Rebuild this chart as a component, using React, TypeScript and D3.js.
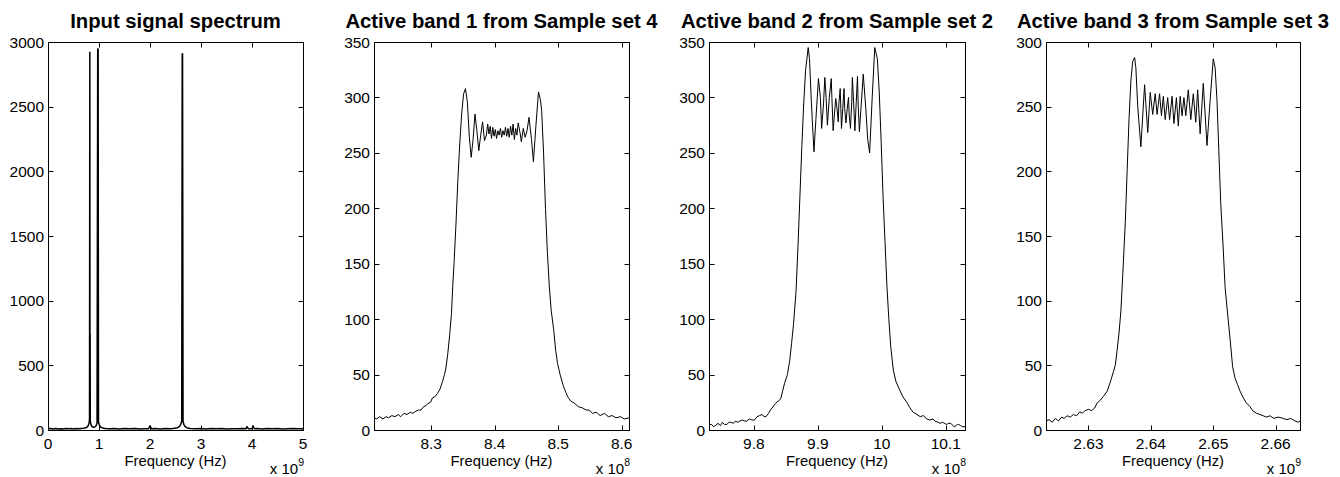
import React from "react";
import * as d3 from "d3";

// ---------- data ----------
// Panel 1: full input spectrum, frequency in units of 1e9 Hz
const spectrumPoints: [number, number][] = [
  [0, 9], [0.05, 11], [0.1, 7], [0.15, 12], [0.2, 8], [0.25, 10], [0.3, 7], [0.35, 11],
  [0.4, 9], [0.45, 12], [0.5, 8], [0.55, 11], [0.6, 9], [0.65, 12], [0.7, 14], [0.74, 17],
  [0.77, 24], [0.79, 35], [0.805, 55], [0.814, 80], [0.82, 2920], [0.823, 120], [0.826, 740],
  [0.829, 70], [0.84, 45], [0.86, 28], [0.89, 20], [0.92, 24], [0.945, 35], [0.962, 55],
  [0.975, 2945], [0.983, 2945], [0.99, 60], [1.005, 40], [1.03, 24], [1.07, 15], [1.12, 11],
  [1.2, 9], [1.3, 12], [1.4, 8], [1.5, 11], [1.6, 9], [1.7, 12], [1.8, 8], [1.9, 10],
  [1.97, 9], [2.0, 32], [2.03, 9], [2.1, 11], [2.2, 8], [2.3, 12], [2.4, 10], [2.48, 13],
  [2.54, 18], [2.58, 28], [2.605, 45], [2.622, 70], [2.632, 2910], [2.638, 2910],
  [2.648, 65], [2.665, 42], [2.69, 26], [2.73, 16], [2.79, 11], [2.9, 9], [3.0, 12],
  [3.1, 8], [3.2, 11], [3.3, 9], [3.4, 12], [3.5, 8], [3.6, 10], [3.7, 9], [3.8, 11],
  [3.88, 9], [3.9, 26], [3.93, 9], [4.0, 10], [4.02, 30], [4.05, 9], [4.1, 11], [4.2, 8],
  [4.3, 12], [4.4, 9], [4.5, 11], [4.6, 8], [4.7, 10], [4.8, 12], [4.9, 9], [5.0, 10],
];

// Panel 2: active band 1, frequency in units of 1e8 Hz
const band1Points: [number, number][] = [
  [8.21, 11], [8.214, 10], [8.219, 12], [8.224, 10], [8.229, 12], [8.233, 11], [8.238, 13],
  [8.243, 12], [8.248, 14], [8.252, 12], [8.257, 15], [8.262, 14], [8.267, 16], [8.271, 15],
  [8.276, 17], [8.28, 18], [8.284, 18], [8.288, 21], [8.292, 22], [8.295, 24], [8.299, 25],
  [8.302, 29], [8.306, 30], [8.31, 33], [8.314, 37], [8.318, 44], [8.321, 50], [8.323, 55],
  [8.326, 68], [8.329, 85], [8.332, 105], [8.334, 130], [8.336, 150], [8.339, 185],
  [8.342, 225], [8.345, 258], [8.348, 285], [8.351, 303], [8.354, 308], [8.357, 296],
  [8.36, 265], [8.363, 246], [8.366, 262], [8.369, 285], [8.372, 270], [8.375, 252],
  [8.378, 266], [8.381, 278], [8.384, 261], [8.387, 266], [8.389, 276], [8.391, 267],
  [8.393, 274], [8.395, 263], [8.397, 273], [8.399, 265], [8.401, 271], [8.403, 263],
  [8.405, 270], [8.407, 266], [8.409, 272], [8.411, 264], [8.413, 270], [8.415, 266],
  [8.417, 273], [8.419, 265], [8.421, 272], [8.423, 264], [8.425, 274], [8.427, 266],
  [8.429, 276], [8.431, 262], [8.433, 272], [8.435, 266], [8.437, 277], [8.44, 268],
  [8.442, 260], [8.445, 272], [8.448, 264], [8.451, 270], [8.454, 282], [8.458, 262],
  [8.461, 242], [8.465, 275], [8.469, 305], [8.472, 298], [8.474, 288], [8.477, 250],
  [8.48, 200], [8.483, 160], [8.486, 130], [8.489, 108], [8.493, 90], [8.496, 72],
  [8.499, 60], [8.503, 50], [8.508, 40], [8.512, 34], [8.515, 30], [8.52, 26], [8.526, 24],
  [8.532, 21], [8.538, 20], [8.544, 18], [8.549, 18], [8.554, 15], [8.56, 16], [8.566, 13],
  [8.573, 15], [8.579, 12], [8.585, 13], [8.591, 11], [8.598, 12], [8.604, 10], [8.6115, 11],
];

// Panel 3: active band 2, frequency in units of 1e8 Hz
const band2Points: [number, number][] = [
  [9.73, 5], [9.734, 5], [9.737, 3], [9.74, 4], [9.744, 6], [9.748, 4], [9.751, 7],
  [9.754, 5], [9.758, 5], [9.761, 7], [9.764, 7], [9.768, 6], [9.771, 8], [9.775, 7],
  [9.778, 8], [9.782, 9], [9.786, 8], [9.789, 8], [9.793, 10], [9.797, 9], [9.801, 9],
  [9.805, 12], [9.809, 13], [9.813, 14], [9.816, 12], [9.819, 12], [9.823, 15], [9.826, 18],
  [9.83, 21], [9.834, 24], [9.838, 26], [9.842, 28], [9.845, 35], [9.848, 42], [9.8525, 50],
  [9.856, 62], [9.859, 78], [9.862, 95], [9.866, 125], [9.869, 165], [9.872, 210],
  [9.875, 255], [9.878, 295], [9.881, 325], [9.885, 345], [9.887, 335], [9.89, 295],
  [9.894, 251], [9.897, 280], [9.901, 317], [9.904, 300], [9.906, 272], [9.909, 295],
  [9.911, 318], [9.913, 300], [9.915, 275], [9.918, 300], [9.921, 317], [9.922, 300],
  [9.924, 270], [9.926, 285], [9.928, 299], [9.93, 290], [9.932, 278], [9.933, 295],
  [9.935, 308], [9.936, 290], [9.937, 272], [9.939, 290], [9.941, 308], [9.942, 290],
  [9.944, 277], [9.946, 290], [9.948, 300], [9.949, 285], [9.951, 272], [9.953, 295],
  [9.954, 318], [9.956, 295], [9.958, 270], [9.96, 295], [9.962, 319], [9.963, 295],
  [9.965, 269], [9.968, 295], [9.971, 321], [9.975, 290], [9.978, 262], [9.981, 250],
  [9.985, 300], [9.989, 345], [9.993, 335], [9.996, 305], [9.999, 260], [10.002, 210],
  [10.005, 170], [10.008, 130], [10.011, 100], [10.014, 75], [10.018, 54], [10.022, 44],
  [10.028, 36], [10.033, 30], [10.039, 25], [10.044, 20], [10.049, 16], [10.055, 14],
  [10.06, 12], [10.065, 13], [10.07, 10], [10.075, 9], [10.08, 10], [10.083, 8], [10.088, 7],
  [10.091, 6], [10.095, 7], [10.101, 5], [10.104, 6], [10.108, 6], [10.111, 4], [10.114, 3],
  [10.118, 5], [10.12, 5], [10.123, 4], [10.126, 3], [10.13, 3],
];

// Panel 4: active band 3, frequency in units of 1e9 Hz
const band3Points: [number, number][] = [
  [2.6232, 7], [2.6237, 8], [2.6242, 6], [2.6247, 9], [2.6252, 7], [2.6257, 10], [2.6261, 9],
  [2.6266, 11], [2.6271, 10], [2.6276, 12], [2.6281, 11], [2.6286, 14], [2.629, 13],
  [2.6295, 15], [2.63, 16], [2.6305, 15], [2.631, 17], [2.6314, 21], [2.6319, 23],
  [2.6324, 26], [2.633, 30], [2.6335, 37], [2.634, 45], [2.6343, 50], [2.6346, 62],
  [2.6349, 75], [2.6352, 92], [2.6355, 120], [2.6359, 160], [2.6362, 200], [2.6365, 240],
  [2.6368, 270], [2.6371, 285], [2.6374, 288], [2.6376, 280], [2.6379, 250], [2.6384, 219],
  [2.639, 267], [2.6395, 230], [2.6399, 261], [2.6403, 244], [2.6407, 260], [2.641, 244],
  [2.6414, 260], [2.6417, 243], [2.642, 258], [2.6423, 240], [2.6427, 257], [2.643, 240],
  [2.6434, 258], [2.6437, 237], [2.6441, 257], [2.6444, 235], [2.6447, 258], [2.645, 243],
  [2.6453, 257], [2.6456, 243], [2.646, 263], [2.6464, 240], [2.6468, 260], [2.6472, 238],
  [2.6475, 263], [2.6479, 229], [2.6484, 268], [2.649, 220], [2.6495, 255], [2.65, 287],
  [2.6503, 280], [2.6506, 255], [2.6509, 215], [2.6512, 175], [2.6516, 140], [2.6519, 110],
  [2.6524, 85], [2.6528, 65], [2.6531, 49], [2.6535, 40], [2.6539, 35], [2.6543, 30],
  [2.6548, 25], [2.6553, 21], [2.6559, 18], [2.6563, 15], [2.6569, 13], [2.6575, 12],
  [2.658, 11], [2.6585, 10], [2.6591, 11], [2.6597, 9], [2.6604, 10], [2.6612, 9],
  [2.6618, 8], [2.6624, 9], [2.6631, 7], [2.6636, 6], [2.6639, 7],
];

const titles = [
  "Input signal spectrum",
  "Active band 1 from Sample set 4",
  "Active band 2 from Sample set 2",
  "Active band 3 from Sample set 3",
];

const xTicks1 = [0, 1, 2, 3, 4, 5];
const xTicks2 = [8.3, 8.4, 8.5, 8.6];
const xTicks3 = [9.8, 9.9, 10, 10.1];
const xTicks4 = [2.63, 2.64, 2.65, 2.66];
const xTickLabels1 = ["0", "1", "2", "3", "4", "5"];
const xTickLabels2 = ["8.3", "8.4", "8.5", "8.6"];
const xTickLabels3 = ["9.8", "9.9", "10", "10.1"];
const xTickLabels4 = ["2.63", "2.64", "2.65", "2.66"];
const yTicks1 = [0, 500, 1000, 1500, 2000, 2500, 3000];
const yTicks2 = [0, 50, 100, 150, 200, 250, 300, 350];
const yTicks3 = [0, 50, 100, 150, 200, 250, 300, 350];
const yTicks4 = [0, 50, 100, 150, 200, 250, 300];
const exponents = ["9", "8", "8", "9"];
const xLabel = "Frequency (Hz)";

// ---------- layout ----------
const FONT = "'Liberation Sans', Arial, Helvetica, sans-serif";
const TOP = 42;
const BOTTOM = 430;
const TICK = 5;
const TICK_FONT = 15.5;

type PanelProps = {
  left: number;
  right: number;
  title: string;
  xDomain: [number, number];
  yDomain: [number, number];
  xTicks: number[];
  xTickLabels: string[];
  yTicks: number[];
  exponent: string;
  data: [number, number][];
  strokeWidth: number;
};

function Panel(p: PanelProps) {
  const x = d3.scaleLinear().domain(p.xDomain).range([p.left, p.right]);
  const y = d3.scaleLinear().domain(p.yDomain).range([BOTTOM, TOP]);
  const line = d3
    .line<[number, number]>()
    .x((d) => x(d[0]))
    .y((d) => y(d[1]));
  const cx = (p.left + p.right) / 2;
  return (
    <g>
      <defs>
        <clipPath id={`clip-${p.left}`}>
          <rect x={p.left} y={TOP - 1} width={p.right - p.left} height={BOTTOM - TOP + 1} />
        </clipPath>
      </defs>
      <path
        d={line(p.data) || ""}
        fill="none"
        stroke="#000"
        strokeWidth={p.strokeWidth}
        strokeLinejoin="round"
        clipPath={`url(#clip-${p.left})`}
      />
      <rect
        x={p.left + 0.5}
        y={TOP + 0.5}
        width={p.right - p.left}
        height={BOTTOM - TOP}
        fill="none"
        stroke="#000"
        strokeWidth={1}
      />
      {p.xTicks.map((t, i) => {
        const xx = Math.round(x(t)) + 0.5;
        return (
          <g key={`x${i}`}>
            <line x1={xx} x2={xx} y1={BOTTOM + 0.5} y2={BOTTOM + 0.5 - TICK} stroke="#000" />
            <line x1={xx} x2={xx} y1={TOP + 0.5} y2={TOP + 0.5 + TICK} stroke="#000" />
            <text x={x(t)} y={449} textAnchor="middle" fontSize={TICK_FONT} fontFamily={FONT} fill="#000">
              {p.xTickLabels[i]}
            </text>
          </g>
        );
      })}
      {p.yTicks.map((t, i) => {
        const yy = Math.round(y(t)) + 0.5;
        return (
          <g key={`y${i}`}>
            <line x1={p.left + 0.5} x2={p.left + 0.5 + TICK} y1={yy} y2={yy} stroke="#000" />
            <line x1={p.right + 0.5} x2={p.right + 0.5 - TICK} y1={yy} y2={yy} stroke="#000" />
            <text
              x={p.left - 4}
              y={y(t)}
              dy="0.36em"
              textAnchor="end"
              fontSize={TICK_FONT}
              fontFamily={FONT}
              fill="#000"
            >
              {t}
            </text>
          </g>
        );
      })}
      <text x={cx} y={28} textAnchor="middle" fontSize={20.3} fontWeight="bold" fontFamily={FONT} fill="#000">
        {p.title}
      </text>
      <text x={cx} y={466} textAnchor="middle" fontSize={14.8} fontFamily={FONT} fill="#000">
        {xLabel}
      </text>
      <text x={p.right + 1} y={474} textAnchor="end" fontSize={15} fontFamily={FONT} fill="#000">
        x 10
        <tspan fontSize={10.5} dy={-8}>
          {p.exponent}
        </tspan>
      </text>
    </g>
  );
}

export default function App() {
  return (
    <svg
      width={1340}
      height={477}
      style={{ position: "absolute", left: 0, top: 0, background: "#fff" }}
    >
      <rect x={0} y={0} width={1340} height={477} fill="#fff" />
      <Panel
        left={48}
        right={303}
        title={titles[0]}
        xDomain={[0, 5]}
        yDomain={[0, 3000]}
        xTicks={xTicks1}
        xTickLabels={xTickLabels1}
        yTicks={yTicks1}
        exponent={exponents[0]}
        data={spectrumPoints}
        strokeWidth={1.5}
      />
      <Panel
        left={374}
        right={629}
        title={titles[1]}
        xDomain={[8.21, 8.6115]}
        yDomain={[0, 350]}
        xTicks={xTicks2}
        xTickLabels={xTickLabels2}
        yTicks={yTicks2}
        exponent={exponents[1]}
        data={band1Points}
        strokeWidth={1}
      />
      <Panel
        left={709}
        right={965}
        title={titles[2]}
        xDomain={[9.73, 10.13]}
        yDomain={[0, 350]}
        xTicks={xTicks3}
        xTickLabels={xTickLabels3}
        yTicks={yTicks3}
        exponent={exponents[2]}
        data={band2Points}
        strokeWidth={1}
      />
      <Panel
        left={1046}
        right={1300}
        title={titles[3]}
        xDomain={[2.6232, 2.6639]}
        yDomain={[0, 300]}
        xTicks={xTicks4}
        xTickLabels={xTickLabels4}
        yTicks={yTicks4}
        exponent={exponents[3]}
        data={band3Points}
        strokeWidth={1}
      />
    </svg>
  );
}
